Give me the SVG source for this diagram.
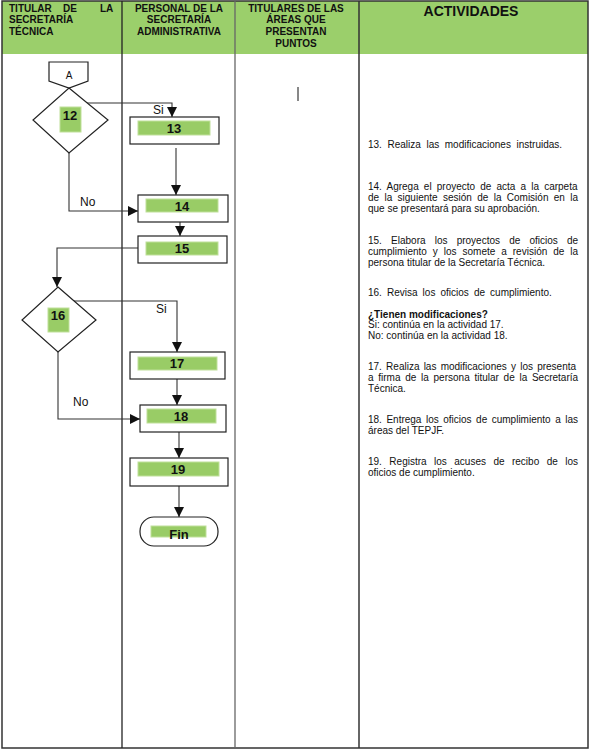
<svg xmlns="http://www.w3.org/2000/svg" width="590" height="752" viewBox="0 0 590 752">
<style>
.hd{font-family:"Liberation Sans",Arial,sans-serif;font-size:10px;font-weight:bold;fill:#111}
.act{font-family:"Liberation Sans",Arial,sans-serif;font-size:10px;fill:#111}
.num{font-family:"Liberation Sans",Arial,sans-serif;font-size:13px;font-weight:bold;fill:#111;text-anchor:middle}
.lbl{font-family:"Liberation Sans",Arial,sans-serif;font-size:12px;fill:#111}
.box{fill:#fff;stroke:#222;stroke-width:1.2}
.bar{fill:#99CC66;stroke:#BFE09A;stroke-width:1}
.conn{fill:none;stroke:#333;stroke-width:1.1}
.grid{stroke:#222;stroke-width:1.3}
</style>
<defs>
<marker id="arr" markerUnits="userSpaceOnUse" markerWidth="10" markerHeight="10" viewBox="0 0 10 10" refX="10" refY="5" orient="auto">
<path d="M0,0 L10,5 L0,10 Z" fill="#111"/>
</marker>
</defs>
<rect x="0" y="0" width="590" height="752" fill="#fff"/>
<rect x="2" y="1" width="586" height="53" fill="#9BCF6B"/>
<g id="table">
<rect x="2" y="1" width="586" height="747" fill="none" stroke="#333" stroke-width="1.5"/>
<line class="grid" x1="122" y1="1" x2="122" y2="748"/>
<line x1="235" y1="1" x2="235" y2="748" stroke="#666" stroke-width="1.3"/>
<line x1="359" y1="1" x2="359" y2="748" stroke="#333" stroke-width="1.5"/>
<line x1="298" y1="87" x2="298" y2="101" stroke="#111" stroke-width="1"/>
</g>
<g id="headers">
<text class="hd" x="9" y="12">TITULAR</text>
<text class="hd" x="63" y="12">DE</text>
<text class="hd" x="100" y="12">LA</text>
<text class="hd" x="9" y="23">SECRETARÍA</text>
<text class="hd" x="9" y="35">TÉCNICA</text>
<text class="hd" x="179" y="12" text-anchor="middle">PERSONAL DE LA</text>
<text class="hd" x="179" y="23" text-anchor="middle">SECRETARÍA</text>
<text class="hd" x="179" y="35" text-anchor="middle">ADMINISTRATIVA</text>
<text class="hd" x="296" y="12" text-anchor="middle">TITULARES DE LAS</text>
<text class="hd" x="296" y="23" text-anchor="middle">ÁREAS QUE</text>
<text class="hd" x="296" y="35" text-anchor="middle">PRESENTAN</text>
<text class="hd" x="296" y="47" text-anchor="middle">PUNTOS</text>
<text class="hd" x="471" y="16" text-anchor="middle" style="font-size:14px">ACTIVIDADES</text>
</g>
<g id="connectors">
<path class="conn" d="M87,103 H172 V117" marker-end="url(#arr)"/>
<path class="conn" d="M176,148 V195" marker-end="url(#arr)"/>
<path class="conn" d="M69,153 V211 H138" marker-end="url(#arr)"/>
<path class="conn" d="M180,222 V236" marker-end="url(#arr)"/>
<path class="conn" d="M138,248 H57 V287" marker-end="url(#arr)"/>
<path class="conn" d="M74,301 H177 V352" marker-end="url(#arr)"/>
<path class="conn" d="M177,379 V405" marker-end="url(#arr)"/>
<path class="conn" d="M58,352 V419 H140" marker-end="url(#arr)"/>
<path class="conn" d="M179,432 V458" marker-end="url(#arr)"/>
<path class="conn" d="M179,486 V517" marker-end="url(#arr)"/>
<text class="lbl" x="153" y="114">Si</text>
<text class="lbl" x="80" y="206">No</text>
<text class="lbl" x="156" y="313">Si</text>
<text class="lbl" x="73" y="406">No</text>
</g>
<g id="nodeA">
<path class="box" d="M49,62 H88 V81 L69,88 L49,81 Z"/>
<text x="69" y="79" text-anchor="middle" style="font-family:'Liberation Sans',Arial,sans-serif;font-size:10px;fill:#111">A</text>
</g>
<g id="node12">
<path class="box" d="M69,88 L108,120 L69,153 L33,120 Z"/>
<rect class="bar" x="60" y="107" width="21" height="25"/>
<text class="num" x="70" y="120">12</text>
</g>
<g id="node13">
<rect class="box" x="130" y="117" width="89" height="27"/>
<rect class="bar" x="138" y="121" width="72" height="14"/>
<text class="num" x="174" y="133">13</text>
</g>
<g id="node14">
<rect class="box" x="138" y="195" width="90" height="27"/>
<rect class="bar" x="146" y="199" width="72" height="13"/>
<text class="num" x="182" y="211">14</text>
</g>
<g id="node15">
<rect class="box" x="138" y="236" width="89" height="27"/>
<rect class="bar" x="146" y="242" width="72" height="13"/>
<text class="num" x="182" y="253">15</text>
</g>
<g id="node16">
<path class="box" d="M58,287 L96,320 L58,352 L22,320 Z"/>
<rect class="bar" x="48" y="308" width="21" height="24"/>
<text class="num" x="58" y="320">16</text>
</g>
<g id="node17">
<rect class="box" x="130" y="352" width="95" height="27"/>
<rect class="bar" x="138" y="357" width="79" height="13"/>
<text class="num" x="177" y="368">17</text>
</g>
<g id="node18">
<rect class="box" x="140" y="405" width="86" height="27"/>
<rect class="bar" x="147" y="409" width="69" height="14"/>
<text class="num" x="181" y="421">18</text>
</g>
<g id="node19">
<rect class="box" x="130" y="458" width="98" height="28"/>
<rect class="bar" x="138" y="462" width="81" height="14"/>
<text class="num" x="178" y="474">19</text>
</g>
<g id="nodeFin">
<rect class="box" x="140" y="517" width="78" height="29" rx="14" ry="14"/>
<rect class="bar" x="151" y="526" width="55" height="11"/>
<text class="num" x="179" y="539">Fin</text>
</g>
<g id="activities">
<text class="act" x="368" y="148" word-spacing="2.8">13. Realiza las modificaciones instruidas.</text>
<text class="act" x="368" y="190" word-spacing="2.35">14. Agrega el proyecto de acta a la carpeta</text>
<text class="act" x="368" y="201" word-spacing="2.56">de la siguiente sesión de la Comisión en la</text>
<text class="act" x="368" y="212">que se presentará para su aprobación.</text>
<text class="act" x="368" y="244" word-spacing="6.38">15. Elabora los proyectos de oficios de</text>
<text class="act" x="368" y="255" word-spacing="3.17">cumplimiento y los somete a revisión de la</text>
<text class="act" x="368" y="266">persona titular de la Secretaría Técnica.</text>
<text class="act" x="368" y="296" word-spacing="2.3">16. Revisa los oficios de cumplimiento.</text>
<text class="act" x="368" y="318" style="font-weight:bold">¿Tienen modificaciones?</text>
<text class="act" x="368" y="328">Si: continúa en la actividad 17.</text>
<text class="act" x="368" y="339">No: continúa en la actividad 18.</text>
<text class="act" x="368" y="370" word-spacing="1.42">17. Realiza las modificaciones y los presenta</text>
<text class="act" x="368" y="381" word-spacing="1.94">a firma de la persona titular de la Secretaría</text>
<text class="act" x="368" y="392">Técnica.</text>
<text class="act" x="368" y="423" word-spacing="1.73">18. Entrega los oficios de cumplimiento a las</text>
<text class="act" x="368" y="434">áreas del TEPJF.</text>
<text class="act" x="368" y="465" word-spacing="4.67">19. Registra los acuses de recibo de los</text>
<text class="act" x="368" y="476">oficios de cumplimiento.</text>
</g>
</svg>
